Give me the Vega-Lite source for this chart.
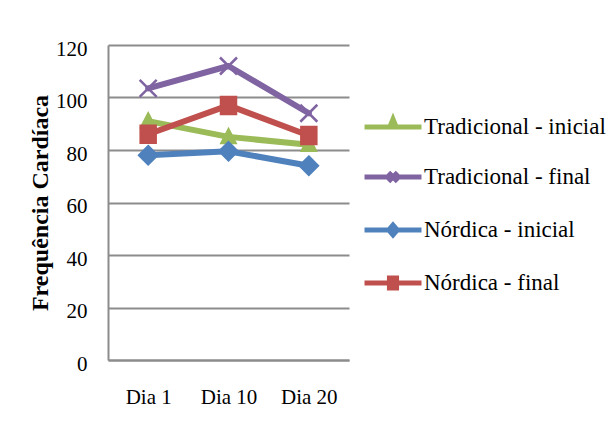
{
  "$schema": "https://vega.github.io/schema/vega-lite/v6.json",
  "width": 241,
  "height": 315,
  "autosize": {"type": "none"},
  "padding": {"left": 108, "top": 45, "right": 264, "bottom": 61},
  "background": "white",
  "config": {
    "view": {"stroke": null},
    "font": "Liberation Serif"
  },
  "data": {
    "values": [
      {"dia": "Dia 1", "serie": "Tradicional - inicial", "fc": 91},
      {"dia": "Dia 10", "serie": "Tradicional - inicial", "fc": 85},
      {"dia": "Dia 20", "serie": "Tradicional - inicial", "fc": 82},
      {"dia": "Dia 1", "serie": "Tradicional - final", "fc": 103.5},
      {"dia": "Dia 10", "serie": "Tradicional - final", "fc": 112},
      {"dia": "Dia 20", "serie": "Tradicional - final", "fc": 94},
      {"dia": "Dia 1", "serie": "Nórdica - inicial", "fc": 78},
      {"dia": "Dia 10", "serie": "Nórdica - inicial", "fc": 79.5},
      {"dia": "Dia 20", "serie": "Nórdica - inicial", "fc": 74},
      {"dia": "Dia 1", "serie": "Nórdica - final", "fc": 86},
      {"dia": "Dia 10", "serie": "Nórdica - final", "fc": 97},
      {"dia": "Dia 20", "serie": "Nórdica - final", "fc": 85.5}
    ]
  },
  "encoding": {
    "x": {
      "field": "dia", "type": "ordinal", "sort": ["Dia 1", "Dia 10", "Dia 20"],
      "scale": {"type": "point", "padding": 0.5},
      "axis": {
        "title": null, "labelAngle": 0, "ticks": false, "grid": false,
        "domainColor": "#8c8c8c", "domainWidth": 2,
        "labelFont": "Liberation Serif", "labelFontSize": 21, "labelColor": "black",
        "labelPadding": 26
      }
    },
    "y": {
      "field": "fc", "type": "quantitative",
      "scale": {"domain": [0, 120], "nice": false},
      "axis": {
        "title": "Frequência Cardíaca", "values": [0, 20, 40, 60, 80, 100, 120],
        "ticks": false, "grid": true, "gridColor": "#8c8c8c", "gridWidth": 2,
        "domainColor": "#8c8c8c", "domainWidth": 2,
        "labelFont": "Liberation Serif", "labelFontSize": 21, "labelColor": "black",
        "labelPadding": 21, "labelOffset": 4,
        "titleFont": "Liberation Serif", "titleFontSize": 24, "titleFontWeight": "bold",
        "titleColor": "black", "titlePadding": 3
      }
    },
    "color": {
      "field": "serie", "type": "nominal",
      "scale": {
        "domain": ["Tradicional - inicial", "Tradicional - final", "Nórdica - inicial", "Nórdica - final"],
        "range": ["#9BBB59", "#8064A2", "#4F81BD", "#C0504D"]
      },
      "legend": {
        "orient": "none", "legendX": 268, "legendY": 65,
        "title": null, "labelFont": "Liberation Serif", "labelFontSize": 23,
        "labelColor": "black", "labelLimit": 400, "labelOffset": 14,
        "symbolSize": 812, "symbolStrokeWidth": 5, "rowPadding": 21,
        "symbolType": "M-2,0H2",
        "encode": {
          "symbols": {
            "update": {
              "shape": {"signal": "datum.value === 'Tradicional - inicial' ? 'M-2,0H2M0,-0.55L0.2,-0.05L-0.2,-0.05Z' : datum.value === 'Tradicional - final' ? 'M-2,0H2M-0.32,-0.32L0.32,0.32M-0.32,0.32L0.32,-0.32' : datum.value === 'Nórdica - inicial' ? 'M-2,0H2M0,-0.35L0.3,0L0,0.35L-0.3,0Z' : 'M-2,0H2M-0.25,-0.35H0.25V0.35H-0.25Z'"},
              "fill": {"signal": "datum.value === 'Tradicional - inicial' ? '#9BBB59' : datum.value === 'Tradicional - final' ? 'transparent' : datum.value === 'Nórdica - inicial' ? '#4F81BD' : '#C0504D'"},
              "stroke": {"signal": "datum.value === 'Tradicional - inicial' ? '#9BBB59' : datum.value === 'Tradicional - final' ? '#8064A2' : datum.value === 'Nórdica - inicial' ? '#4F81BD' : '#C0504D'"},
              "strokeWidth": {"value": 5},
              "size": {"value": 812},
              "opacity": {"value": 1}
            }
          }
        }
      }
    }
  },
  "layer": [
    {
      "mark": {"type": "line", "strokeWidth": 6, "strokeCap": "round", "strokeJoin": "round"}
    },
    {
      "transform": [{"filter": "datum.serie === 'Tradicional - inicial'"}],
      "mark": {"type": "point", "filled": true, "size": 400, "strokeWidth": 2.5, "opacity": 1,
        "stroke": "#9BBB59", "shape": "M0,-0.75L0.7,0.6L-0.7,0.6Z"}
    },
    {
      "transform": [{"filter": "datum.serie === 'Tradicional - final'"}],
      "mark": {"type": "point", "filled": true, "size": 400, "strokeWidth": 2.5, "opacity": 1,
        "stroke": "#8064A2", "shape": "M-0.85,-0.85L0.85,0.85M-0.85,0.85L0.85,-0.85"}
    },
    {
      "transform": [{"filter": "datum.serie === 'Nórdica - inicial'"}],
      "mark": {"type": "point", "filled": true, "size": 400, "strokeWidth": 2.5, "opacity": 1,
        "stroke": "#4F81BD", "shape": "M0,-0.9L0.9,0L0,0.9L-0.9,0Z"}
    },
    {
      "transform": [{"filter": "datum.serie === 'Nórdica - final'"}],
      "mark": {"type": "point", "filled": true, "size": 400, "strokeWidth": 2.5, "opacity": 1,
        "stroke": "#C0504D", "shape": "M-0.75,-0.85H0.75V0.85H-0.75Z"}
    }
  ]
}
